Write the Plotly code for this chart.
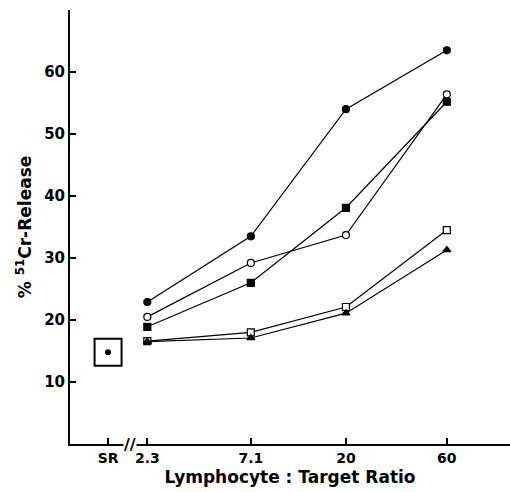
import plotly.graph_objects as go

ratios = [2.3, 7.1, 20, 60]
filled_circle = [22.9, 33.5, 54.0, 63.5]
open_circle = [20.5, 29.2, 33.7, 56.4]
filled_square = [18.9, 26.0, 38.1, 55.2]
open_square = [16.6, 18.0, 22.1, 34.5]
filled_triangle = [16.5, 17.1, 21.1, 31.3]
sr_x = 1.5
sr_value = 14.8

y_ticks = [10, 20, 30, 40, 50, 60, 70]
y_ticklabels = ["10", "20", "30", "40", "50", "60", ""]
x_ticks = [sr_x, 2.3, 7.1, 20, 60]
x_ticklabels = ["SR", "2.3", "7.1", "20", "60"]

series = [
    (filled_circle, "circle", False),
    (open_circle, "circle", True),
    (filled_square, "square", False),
    (open_square, "square", True),
    (filled_triangle, "triangle-up", False),
]

FONT = "DejaVu Sans"

fig = go.Figure()
for vals, sym, hollow in series:
    fig.add_trace(go.Scatter(
        x=ratios, y=vals, mode="lines+markers",
        line=dict(color="black", width=1.2),
        marker=dict(symbol=sym, size=7, color="white" if hollow else "black",
                    line=dict(color="black", width=1.2)),
        showlegend=False,
    ))

fig.add_trace(go.Scatter(x=[sr_x], y=[sr_value], mode="markers",
                         marker=dict(symbol="square-open", size=27, color="black",
                                     line=dict(color="black", width=2)),
                         showlegend=False))
fig.add_trace(go.Scatter(x=[sr_x], y=[sr_value], mode="markers",
                         marker=dict(symbol="circle", size=6, color="black"),
                         showlegend=False))

fig.add_annotation(x=0.28, y=0, xref="x", yref="y", text="<b>//</b>", showarrow=False,
                   font=dict(size=16, color="black", family=FONT),
                   bgcolor="white", borderpad=0)

fig.update_layout(
    width=510, height=492,
    margin=dict(l=70, r=0, t=10, b=48),
    paper_bgcolor="white", plot_bgcolor="white",
    font=dict(family=FONT, color="black"),
    xaxis=dict(type="log", range=[-0.004, 2.077], tickvals=x_ticks, ticktext=x_ticklabels,
               automargin=False,
               showgrid=False, zeroline=False, showline=True, linecolor="black", linewidth=2,
               ticks="inside", ticklen=6, tickwidth=2, tickcolor="black",
               tickfont=dict(size=14, weight="bold", family=FONT),
               title=dict(text="Lymphocyte : Target Ratio",
                          font=dict(size=17, weight="bold", family=FONT), standoff=6)),
    yaxis=dict(range=[0, 70], tickvals=y_ticks, ticktext=y_ticklabels,
               automargin=False,
               showgrid=False, zeroline=False, showline=True, linecolor="black", linewidth=2,
               ticks="inside", ticklen=6, tickwidth=2, tickcolor="black",
               tickfont=dict(size=15, weight="bold", family=FONT),
               title=dict(text="% <sup>51</sup>Cr-Release",
                          font=dict(size=17, weight="bold", family=FONT), standoff=8)),
)
fig.write_html("out.html", config={"displayModeBar": False},
               post_script="document.body.style.margin='0';document.body.style.overflow='hidden';")
